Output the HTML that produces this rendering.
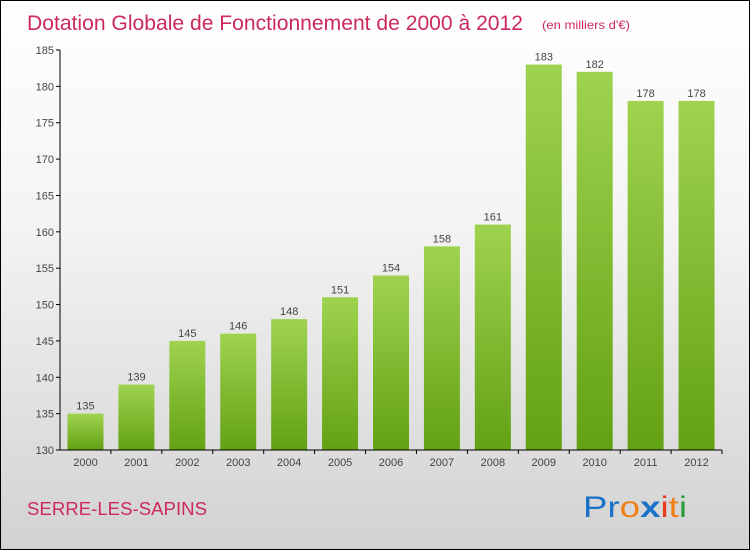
<!DOCTYPE html>
<html><head><meta charset="utf-8"><style>
body{margin:0}
#c{position:relative;width:748px;height:548px;border:1px solid #000;background:linear-gradient(#fff 0%,#f4f4f4 40%,#d2d2d2 100%);font-family:"Liberation Sans",sans-serif;overflow:hidden}
</style></head><body>
<div id="c">
<svg id="s" width="748" height="548" style="position:absolute;left:0;top:0">
<defs><linearGradient id="g" x1="0" y1="0" x2="0" y2="1"><stop offset="0" stop-color="#9fd34f"/><stop offset="1" stop-color="#63a114"/></linearGradient></defs>
<text x="26" y="29" font-size="21" fill="#cc2a5a" textLength="496" lengthAdjust="spacingAndGlyphs">Dotation Globale de Fonctionnement de 2000 à 2012</text>
<text x="541" y="28" font-size="12" fill="#cc2a5a" textLength="88" lengthAdjust="spacingAndGlyphs">(en milliers d'€)</text>
<text x="26" y="514" font-size="18" fill="#cc2a5a" textLength="180" lengthAdjust="spacingAndGlyphs">SERRE-LES-SAPINS</text>
<g font-size="30" font-family="'Liberation Sans',sans-serif">
<text x="582" y="516" textLength="104" lengthAdjust="spacingAndGlyphs"><tspan fill="#1a73c9">Pr</tspan><tspan fill="#f07f16">o</tspan><tspan fill="#1a73c9" font-weight="bold">x</tspan><tspan fill="#e53b1c">i</tspan><tspan fill="#f07f16">t</tspan><tspan fill="#2a9d3a">i</tspan></text></g>
<g id="plot"></g>
</svg></div>
<script>
const years=["2000","2001","2002","2003","2004","2005","2006","2007","2008","2009","2010","2011","2012"];
const values=[135,139,145,146,148,151,154,158,161,183,182,178,178];
const yTicks=[130,135,140,145,150,155,160,165,170,175,180,185];
const NS="http://www.w3.org/2000/svg";
const g=document.getElementById('plot');
const x0=59,x1=721,yTop=49,yBot=449,vMin=130,vMax=185;
const y=v=>yBot-(v-vMin)/(vMax-vMin)*(yBot-yTop);
const step=(x1-x0)/years.length;
const xc=i=>x0+step*(i+0.5);
function mk(t,a){const e=document.createElementNS(NS,t);for(const k in a)e.setAttribute(k,a[k]);g.appendChild(e);return e;}
yTicks.forEach(v=>{
 const t=mk('line',{x1:x0-4,x2:x0,y1:y(v),y2:y(v),stroke:'#000'});
 
 
 const l=mk('text',{x:x0-6,y:y(v)+4,'font-size':11,fill:'#444','text-anchor':'end'});
 l.textContent=v;
 
 
});
values.forEach((v,i)=>{
 const r=mk('rect',{x:xc(i)-18,y:y(v),width:36,height:yBot-y(v),fill:'url(#g)'});
 
 
 const t=mk('text',{x:xc(i),y:y(v)-4,'font-size':11,fill:'#444','text-anchor':'middle'});
 t.textContent=v;
 
 
 const xl=mk('text',{x:xc(i),y:yBot+16,'font-size':11,fill:'#444','text-anchor':'middle'});
 xl.textContent=years[i];
 
 
 const xt=mk('line',{x1:x0+step*(i+1),x2:x0+step*(i+1),y1:yBot,y2:yBot+4,stroke:'#000'});
 
 
});
const ya=mk('line',{x1:x0,x2:x0,y1:yTop,y2:yBot,stroke:'#000'});


const xa=mk('line',{x1:x0,x2:x1,y1:yBot,y2:yBot,stroke:'#000'});


</script>
</body></html>
